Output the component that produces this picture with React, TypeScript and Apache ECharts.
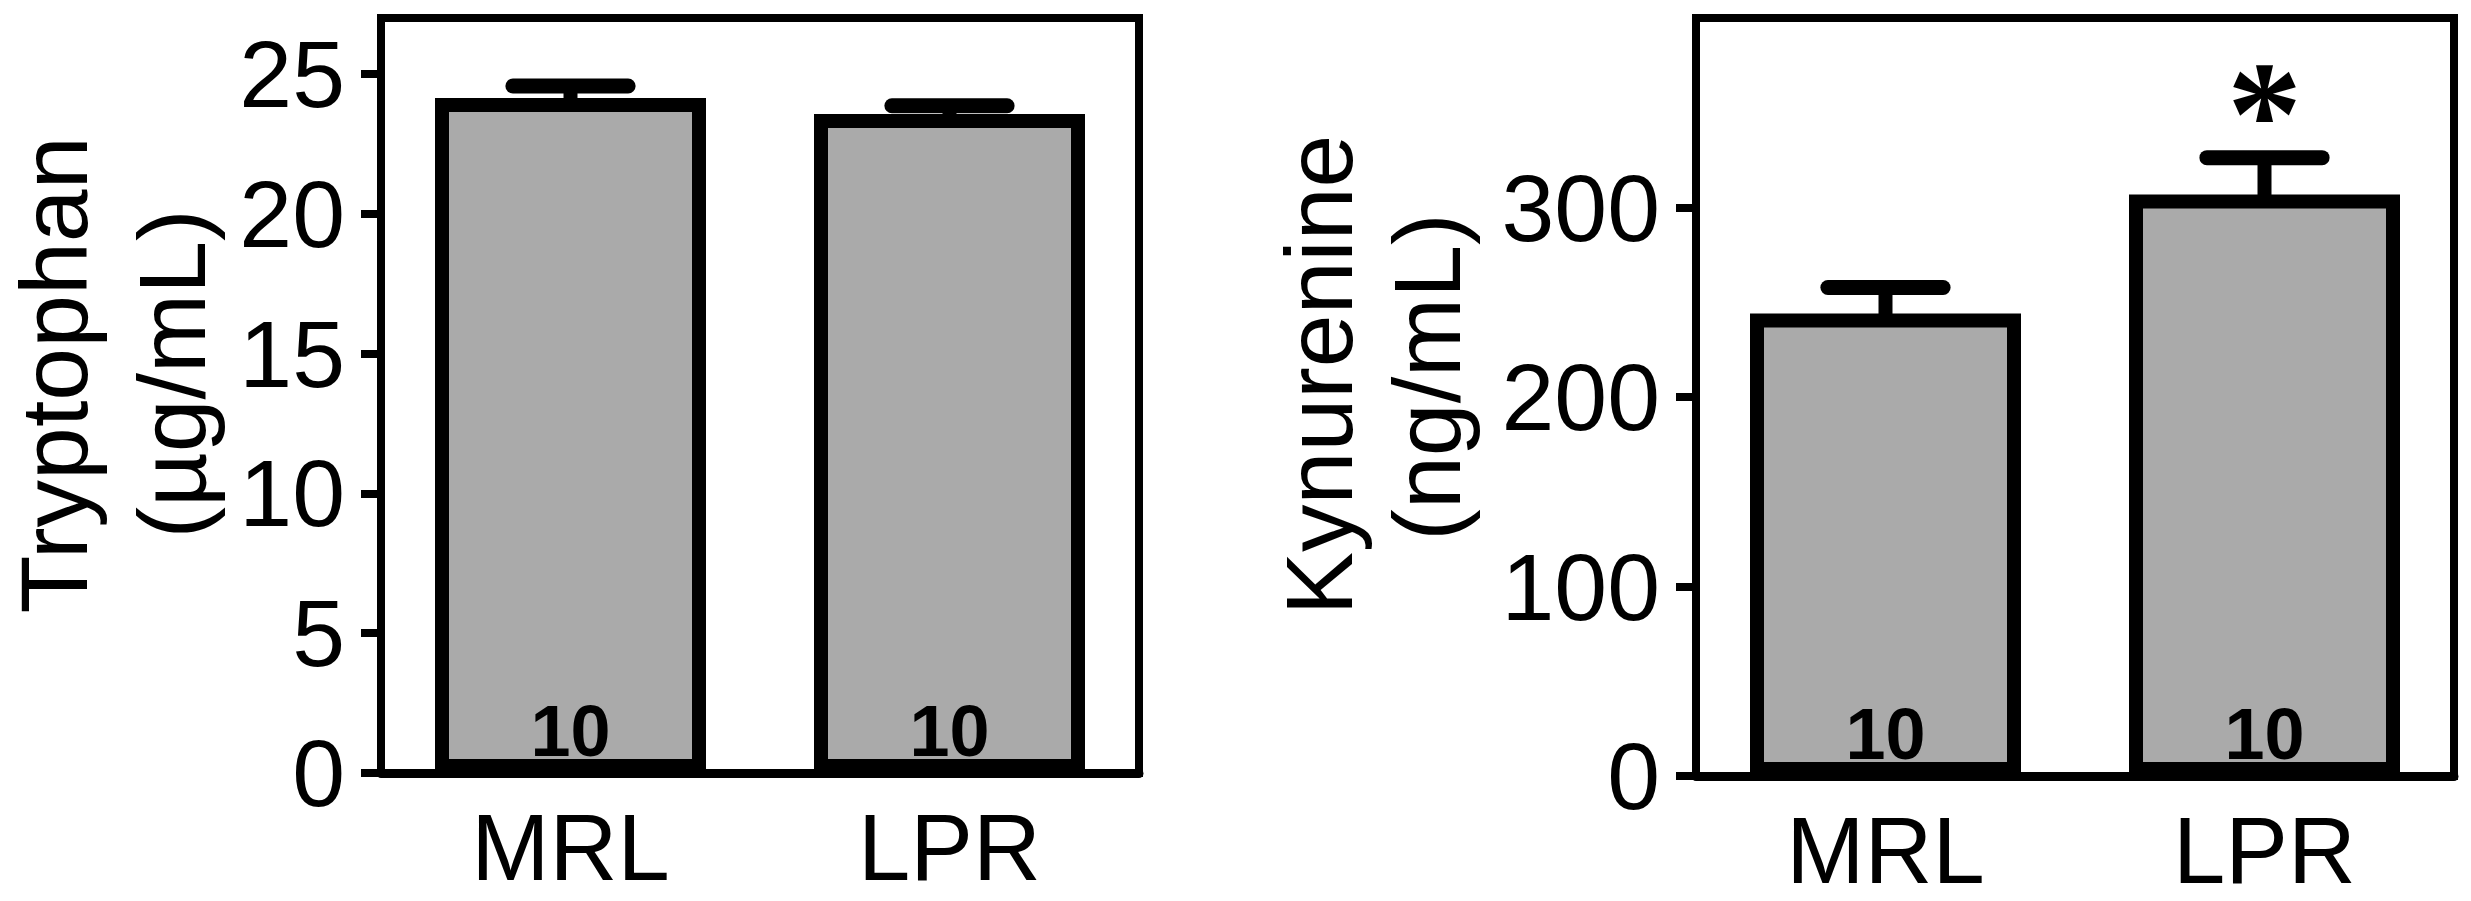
import React, { useEffect, useRef } from "react";
import * as echarts from "echarts";

const categories = ["MRL", "LPR"];
const tryptophanMean = [24.14, 23.57];
const tryptophanSem = [0.43, 0.29];
const kynurenineMean = [244, 306.8];
const kynurenineSem = [13.8, 19.5];
const nCounts = [10, 10];
const tryptophanSig = ["", ""];
const kynurenineSig = ["", "*"];
const tryptophanTicks = [0, 5, 10, 15, 20, 25];
const kynurenineTicks = [0, 100, 200, 300];

const FONT = "'Liberation Sans', Arial, Helvetica, sans-serif";

function errorData(mean: number[], sem: number[]) {
  return mean.map((m, i) => [i, m, m + sem[i]]);
}

function makeErrRender(sig: string[]) {
  return (params: any, api: any) => {
    const ci = api.value(0);
    const base = api.coord([ci, api.value(1)]);
    const top = api.coord([ci, api.value(2)]);
    const half = api.size([1, 0])[0] * 0.152;
    const children: any[] = [
      {
        type: "line",
        shape: { x1: base[0], y1: base[1] + 4, x2: top[0], y2: top[1] },
        style: { stroke: "#000", lineWidth: 14 },
      },
      {
        type: "line",
        shape: { x1: top[0] - half, y1: top[1], x2: top[0] + half, y2: top[1] },
        style: { stroke: "#000", lineWidth: 15, lineCap: "round" },
      },
    ];
    const s = sig[params.dataIndex];
    if (s) {
      children.push({
        type: "text",
        x: top[0],
        y: top[1] - 44,
        style: {
          text: s,
          fontSize: 150,
          fontWeight: "bold",
          fontFamily: "'Liberation Serif', 'Times New Roman', serif",
          fill: "#000",
          align: "center",
          verticalAlign: "middle",
          lineHeight: 100,
        },
      });
    }
    return { type: "group", children };
  };
}

function yAxisCfg(grid: number, max: number, interval: number, ticks: number[]) {
  return {
    type: "value",
    gridIndex: grid,
    min: 0,
    max,
    interval,
    splitLine: { show: false },
    axisLine: { show: true, lineStyle: { color: "#000", width: 8 } },
    axisTick: {
      show: true,
      inside: false,
      length: 20,
      lineStyle: { color: "#000", width: 8 },
      customValues: ticks,
    },
    axisLabel: {
      show: true,
      customValues: ticks,
      color: "#000",
      fontSize: 95,
      lineHeight: 80,
      fontFamily: FONT,
      margin: 36,
    },
  };
}

function xAxisCfg(grid: number) {
  return {
    type: "category",
    gridIndex: grid,
    data: categories,
    axisLine: { show: true, lineStyle: { color: "#000", width: 9 } },
    axisTick: { show: false },
    axisLabel: {
      color: "#000",
      fontSize: 94,
      lineHeight: 80,
      fontFamily: FONT,
      margin: 34,
    },
  };
}

function barSeries(idx: number, mean: number[]) {
  return {
    type: "bar",
    xAxisIndex: idx,
    yAxisIndex: idx,
    data: mean,
    barWidth: 271,
    itemStyle: { color: "#aaaaaa", borderColor: "#000", borderWidth: 14 },
    label: {
      show: true,
      position: "insideBottom",
      distance: 6,
      formatter: (p: any) => String(nCounts[p.dataIndex]),
      fontSize: 72,
      fontWeight: "bold",
      fontFamily: FONT,
      color: "#000",
    },
    z: 2,
  };
}

function errSeries(idx: number, mean: number[], sem: number[], sig: string[]) {
  return {
    type: "custom",
    xAxisIndex: idx,
    yAxisIndex: idx,
    data: errorData(mean, sem),
    renderItem: makeErrRender(sig),
    z: 3,
  };
}

function titleText(text: string, x: number, y: number) {
  return {
    type: "text",
    x,
    y,
    rotation: Math.PI / 2,
    style: {
      text,
      fontSize: 95,
      lineHeight: 80,
      fontFamily: FONT,
      fill: "#000",
      align: "center",
      verticalAlign: "middle",
    },
  };
}

export default function App() {
  const ref = useRef<HTMLDivElement>(null);
  useEffect(() => {
    if (!ref.current) return;
    const chart = echarts.init(ref.current, undefined, { renderer: "svg" });
    chart.setOption({
      animation: false,
      backgroundColor: "#fff",
      grid: [
        { left: 381, top: 18, width: 758, height: 755, show: true, borderColor: "#000", borderWidth: 8, containLabel: false },
        { left: 1696, top: 18, width: 758, height: 758, show: true, borderColor: "#000", borderWidth: 8, containLabel: false },
      ],
      xAxis: [xAxisCfg(0), xAxisCfg(1)],
      yAxis: [
        yAxisCfg(0, 27, 5, tryptophanTicks),
        yAxisCfg(1, 400, 100, kynurenineTicks),
      ],
      series: [
        barSeries(0, tryptophanMean),
        errSeries(0, tryptophanMean, tryptophanSem, tryptophanSig),
        barSeries(1, kynurenineMean),
        errSeries(1, kynurenineMean, kynurenineSem, kynurenineSig),
      ],
      graphic: [
        titleText("Tryptophan", 54, 375),
        titleText("(µg/mL)", 172, 374),
        titleText("Kynurenine", 1319, 375),
        titleText("(ng/mL)", 1427, 377),
      ],
    });
    return () => chart.dispose();
  }, []);
  return (
    <div
      ref={ref}
      style={{ position: "absolute", left: 0, top: 0, width: 2471, height: 901 }}
    />
  );
}
